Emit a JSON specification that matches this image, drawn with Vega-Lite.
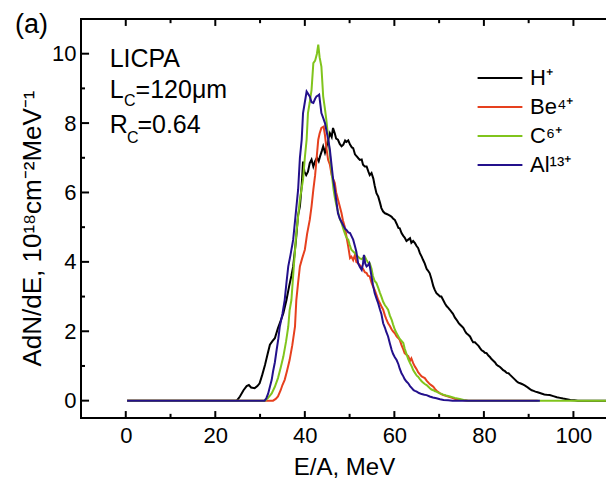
{
  "$schema": "https://vega.github.io/schema/vega-lite/v6.json",
  "width": 526,
  "height": 399,
  "autosize": "none",
  "padding": {"left": 81, "top": 19, "right": 0, "bottom": 62},
  "config": {
    "font": "Liberation Sans",
    "view": {"stroke": "black", "strokeWidth": 2},
    "axis": {"grid": false, "domain": false, "ticks": false, "labelColor": "black", "titleColor": "black", "labelFontSize": 22, "titleFontSize": 24, "titleFontWeight": "normal"}
  },
  "title": {"text": "(a)", "anchor": "start", "frame": "group", "fontSize": 27, "fontWeight": "normal", "color": "black", "dx": -66, "dy": 42, "offset": 0, "baseline": "alphabetic"},
  "datasets": {
    "xmajor": [{"t":0},{"t":20},{"t":40},{"t":60},{"t":80},{"t":100}],
    "xminor": [{"t":10},{"t":30},{"t":50},{"t":70},{"t":90}],
    "ymajor": [{"t":0},{"t":2},{"t":4},{"t":6},{"t":8},{"t":10}],
    "yminor": [{"t":1},{"t":3},{"t":5},{"t":7},{"t":9}],
    "H": [{"E":0.3,"V":0},{"E":24.8,"V":0},{"E":25.5,"V":0.12},{"E":26.3,"V":0.3},{"E":27.0,"V":0.42},{"E":27.5,"V":0.45},{"E":28.0,"V":0.38},{"E":28.8,"V":0.36},{"E":29.4,"V":0.42},{"E":29.9,"V":0.5},{"E":30.5,"V":0.75},{"E":31.1,"V":1.03},{"E":31.7,"V":1.35},{"E":32.2,"V":1.61},{"E":32.8,"V":1.72},{"E":33.3,"V":1.8},{"E":34.0,"V":2.09},{"E":34.6,"V":2.3},{"E":35.2,"V":2.52},{"E":35.9,"V":2.9},{"E":36.5,"V":3.3},{"E":37.0,"V":3.6},{"E":37.4,"V":3.87},{"E":38.0,"V":4.6},{"E":38.5,"V":5.35},{"E":38.9,"V":5.6},{"E":39.3,"V":6.2},{"E":39.6,"V":6.89},{"E":39.9,"V":6.6},{"E":40.3,"V":6.5},{"E":40.7,"V":6.6},{"E":41.1,"V":6.85},{"E":41.5,"V":6.95},{"E":41.9,"V":6.75},{"E":42.3,"V":6.9},{"E":42.7,"V":7.0},{"E":43.1,"V":6.9},{"E":43.4,"V":7.04},{"E":43.8,"V":7.2},{"E":44.1,"V":7.33},{"E":44.5,"V":7.15},{"E":44.8,"V":7.3},{"E":45.2,"V":7.5},{"E":45.6,"V":7.71},{"E":46.0,"V":7.6},{"E":46.3,"V":7.86},{"E":46.7,"V":7.7},{"E":47.0,"V":7.55},{"E":47.4,"V":7.52},{"E":47.8,"V":7.4},{"E":48.2,"V":7.33},{"E":48.6,"V":7.38},{"E":49.0,"V":7.5},{"E":49.3,"V":7.46},{"E":49.7,"V":7.5},{"E":50.1,"V":7.38},{"E":50.5,"V":7.3},{"E":50.8,"V":7.28},{"E":51.2,"V":7.1},{"E":51.6,"V":7.04},{"E":52.0,"V":6.98},{"E":52.3,"V":6.94},{"E":52.7,"V":6.95},{"E":53.0,"V":6.8},{"E":53.4,"V":6.75},{"E":53.8,"V":6.75},{"E":54.2,"V":6.6},{"E":54.5,"V":6.5},{"E":54.9,"V":6.56},{"E":55.3,"V":6.4},{"E":55.6,"V":6.2},{"E":56.0,"V":5.98},{"E":56.4,"V":5.88},{"E":56.8,"V":5.7},{"E":57.1,"V":5.55},{"E":57.5,"V":5.45},{"E":57.9,"V":5.4},{"E":58.3,"V":5.38},{"E":58.6,"V":5.36},{"E":59.0,"V":5.33},{"E":59.4,"V":5.3},{"E":59.7,"V":5.25},{"E":60.1,"V":5.21},{"E":60.5,"V":5.1},{"E":60.9,"V":4.98},{"E":61.2,"V":4.97},{"E":61.6,"V":4.83},{"E":62.0,"V":4.75},{"E":62.3,"V":4.7},{"E":62.7,"V":4.6},{"E":63.1,"V":4.64},{"E":63.5,"V":4.68},{"E":63.8,"V":4.55},{"E":64.2,"V":4.6},{"E":64.6,"V":4.54},{"E":65.0,"V":4.45},{"E":65.3,"V":4.4},{"E":65.7,"V":4.25},{"E":66.1,"V":4.15},{"E":66.4,"V":4.06},{"E":66.8,"V":3.95},{"E":67.2,"V":3.8},{"E":67.5,"V":3.75},{"E":67.9,"V":3.67},{"E":68.3,"V":3.5},{"E":68.7,"V":3.3},{"E":69.0,"V":3.2},{"E":69.4,"V":3.1},{"E":69.8,"V":3.05},{"E":70.2,"V":3.0},{"E":70.5,"V":3.0},{"E":70.9,"V":2.9},{"E":71.3,"V":2.8},{"E":71.7,"V":2.72},{"E":72.0,"V":2.68},{"E":72.4,"V":2.62},{"E":72.8,"V":2.55},{"E":73.1,"V":2.5},{"E":73.5,"V":2.4},{"E":73.9,"V":2.33},{"E":74.3,"V":2.25},{"E":74.6,"V":2.2},{"E":75.0,"V":2.15},{"E":75.4,"V":2.1},{"E":75.8,"V":2.0},{"E":76.1,"V":1.94},{"E":76.5,"V":1.9},{"E":76.9,"V":1.85},{"E":77.3,"V":1.75},{"E":77.6,"V":1.68},{"E":78.0,"V":1.68},{"E":78.4,"V":1.63},{"E":78.8,"V":1.58},{"E":79.1,"V":1.52},{"E":79.5,"V":1.45},{"E":79.9,"V":1.42},{"E":80.2,"V":1.38},{"E":80.6,"V":1.37},{"E":81.0,"V":1.3},{"E":81.4,"V":1.25},{"E":81.7,"V":1.2},{"E":82.1,"V":1.15},{"E":82.5,"V":1.1},{"E":82.8,"V":1.04},{"E":83.2,"V":1.0},{"E":83.6,"V":0.97},{"E":84.0,"V":0.92},{"E":84.3,"V":0.88},{"E":84.7,"V":0.85},{"E":85.1,"V":0.8},{"E":85.5,"V":0.79},{"E":85.8,"V":0.75},{"E":86.2,"V":0.7},{"E":86.6,"V":0.65},{"E":87.0,"V":0.6},{"E":87.3,"V":0.56},{"E":87.7,"V":0.52},{"E":88.1,"V":0.5},{"E":88.5,"V":0.48},{"E":88.8,"V":0.46},{"E":89.2,"V":0.43},{"E":89.6,"V":0.4},{"E":90.0,"V":0.36},{"E":90.3,"V":0.33},{"E":90.7,"V":0.3},{"E":91.1,"V":0.28},{"E":91.5,"V":0.26},{"E":92.0,"V":0.24},{"E":92.5,"V":0.22},{"E":93.0,"V":0.2},{"E":93.5,"V":0.18},{"E":94.0,"V":0.17},{"E":94.7,"V":0.16},{"E":95.5,"V":0.13},{"E":96.3,"V":0.1},{"E":97.0,"V":0.08},{"E":97.7,"V":0.06},{"E":98.5,"V":0.04},{"E":99.3,"V":0.02},{"E":100.2,"V":0.01},{"E":101.0,"V":0},{"E":107.5,"V":0}],
    "Be": [{"E":0.3,"V":0},{"E":32.9,"V":0},{"E":33.5,"V":0.05},{"E":34.0,"V":0.12},{"E":34.6,"V":0.3},{"E":35.0,"V":0.45},{"E":35.5,"V":0.6},{"E":36.0,"V":0.85},{"E":36.6,"V":1.17},{"E":37.2,"V":1.6},{"E":37.8,"V":2.13},{"E":38.1,"V":2.9},{"E":38.5,"V":3.4},{"E":38.9,"V":3.87},{"E":39.4,"V":4.1},{"E":40.0,"V":4.35},{"E":40.5,"V":4.8},{"E":41.1,"V":5.21},{"E":41.5,"V":5.6},{"E":41.9,"V":6.08},{"E":42.3,"V":6.5},{"E":42.6,"V":6.94},{"E":43.0,"V":7.52},{"E":43.3,"V":7.7},{"E":43.7,"V":7.86},{"E":44.2,"V":7.9},{"E":44.5,"V":7.65},{"E":44.8,"V":7.3},{"E":45.2,"V":6.94},{"E":45.6,"V":6.8},{"E":46.0,"V":6.5},{"E":46.3,"V":6.4},{"E":46.7,"V":6.27},{"E":47.0,"V":6.0},{"E":47.4,"V":5.8},{"E":47.8,"V":5.6},{"E":48.2,"V":5.4},{"E":48.5,"V":5.2},{"E":48.9,"V":5.02},{"E":49.3,"V":4.73},{"E":49.7,"V":4.44},{"E":50.1,"V":4.11},{"E":50.4,"V":4.15},{"E":50.8,"V":4.05},{"E":51.2,"V":4.2},{"E":51.5,"V":4.0},{"E":51.9,"V":3.96},{"E":52.3,"V":3.9},{"E":52.7,"V":3.85},{"E":53.0,"V":3.8},{"E":53.4,"V":3.7},{"E":53.8,"V":3.68},{"E":54.1,"V":3.6},{"E":54.5,"V":3.58},{"E":54.9,"V":3.4},{"E":55.2,"V":3.3},{"E":55.6,"V":3.19},{"E":56.0,"V":3.05},{"E":56.4,"V":2.9},{"E":56.8,"V":2.8},{"E":57.1,"V":2.72},{"E":57.5,"V":2.62},{"E":57.9,"V":2.45},{"E":58.2,"V":2.35},{"E":58.6,"V":2.23},{"E":59.0,"V":2.15},{"E":59.4,"V":2.05},{"E":59.7,"V":2.0},{"E":60.1,"V":1.94},{"E":60.5,"V":1.85},{"E":60.9,"V":1.8},{"E":61.2,"V":1.75},{"E":61.6,"V":1.6},{"E":62.0,"V":1.48},{"E":62.3,"V":1.37},{"E":62.7,"V":1.32},{"E":63.1,"V":1.28},{"E":63.5,"V":1.15},{"E":63.8,"V":1.22},{"E":64.2,"V":1.08},{"E":64.6,"V":0.98},{"E":65.0,"V":0.9},{"E":65.3,"V":0.82},{"E":65.7,"V":0.76},{"E":66.1,"V":0.7},{"E":66.4,"V":0.68},{"E":66.8,"V":0.65},{"E":67.2,"V":0.58},{"E":67.6,"V":0.52},{"E":67.9,"V":0.48},{"E":68.3,"V":0.44},{"E":68.7,"V":0.4},{"E":69.1,"V":0.33},{"E":69.5,"V":0.28},{"E":69.8,"V":0.25},{"E":70.2,"V":0.21},{"E":70.8,"V":0.17},{"E":71.5,"V":0.14},{"E":72.2,"V":0.11},{"E":72.9,"V":0.08},{"E":73.6,"V":0.05},{"E":74.5,"V":0.03},{"E":75.5,"V":0.01},{"E":76.5,"V":0},{"E":92.0,"V":0}],
    "C": [{"E":0.3,"V":0},{"E":31.1,"V":0},{"E":31.8,"V":0.08},{"E":32.6,"V":0.21},{"E":33.3,"V":0.4},{"E":34.0,"V":0.65},{"E":34.6,"V":0.95},{"E":35.2,"V":1.27},{"E":35.8,"V":1.7},{"E":36.3,"V":2.13},{"E":36.6,"V":2.6},{"E":37.0,"V":2.9},{"E":37.5,"V":3.8},{"E":38.1,"V":4.83},{"E":38.5,"V":5.3},{"E":38.9,"V":5.8},{"E":39.6,"V":6.37},{"E":40.0,"V":7.0},{"E":40.4,"V":7.52},{"E":40.7,"V":8.29},{"E":41.1,"V":8.6},{"E":41.5,"V":8.96},{"E":41.9,"V":9.73},{"E":42.3,"V":9.8},{"E":42.7,"V":10.0},{"E":43.0,"V":10.26},{"E":43.3,"V":9.9},{"E":43.7,"V":9.63},{"E":44.1,"V":8.77},{"E":44.5,"V":8.4},{"E":44.8,"V":8.1},{"E":45.2,"V":7.6},{"E":45.6,"V":7.1},{"E":46.0,"V":6.56},{"E":46.4,"V":6.1},{"E":46.7,"V":5.85},{"E":47.1,"V":5.6},{"E":47.5,"V":5.4},{"E":47.8,"V":5.25},{"E":48.2,"V":5.12},{"E":48.6,"V":4.95},{"E":49.0,"V":4.8},{"E":49.3,"V":4.7},{"E":49.7,"V":4.64},{"E":50.0,"V":4.5},{"E":50.4,"V":4.35},{"E":50.8,"V":4.3},{"E":51.2,"V":4.25},{"E":51.5,"V":4.2},{"E":51.9,"V":4.15},{"E":52.3,"V":4.1},{"E":52.7,"V":4.08},{"E":53.0,"V":4.12},{"E":53.4,"V":4.15},{"E":53.8,"V":4.05},{"E":54.1,"V":3.98},{"E":54.5,"V":3.96},{"E":54.9,"V":3.8},{"E":55.2,"V":3.6},{"E":55.6,"V":3.45},{"E":56.0,"V":3.39},{"E":56.4,"V":3.25},{"E":56.8,"V":3.1},{"E":57.1,"V":3.0},{"E":57.5,"V":2.85},{"E":57.9,"V":2.75},{"E":58.2,"V":2.7},{"E":58.6,"V":2.62},{"E":59.0,"V":2.45},{"E":59.4,"V":2.33},{"E":59.7,"V":2.2},{"E":60.1,"V":2.05},{"E":60.5,"V":1.94},{"E":60.9,"V":1.85},{"E":61.2,"V":1.78},{"E":61.6,"V":1.72},{"E":62.0,"V":1.66},{"E":62.3,"V":1.5},{"E":62.7,"V":1.35},{"E":63.1,"V":1.2},{"E":63.5,"V":1.08},{"E":63.9,"V":0.98},{"E":64.2,"V":0.88},{"E":64.6,"V":0.8},{"E":65.0,"V":0.72},{"E":65.3,"V":0.69},{"E":65.7,"V":0.62},{"E":66.1,"V":0.56},{"E":66.4,"V":0.52},{"E":66.8,"V":0.48},{"E":67.2,"V":0.45},{"E":67.6,"V":0.4},{"E":68.0,"V":0.35},{"E":68.3,"V":0.32},{"E":68.7,"V":0.3},{"E":69.1,"V":0.27},{"E":69.4,"V":0.26},{"E":69.8,"V":0.23},{"E":70.2,"V":0.21},{"E":70.8,"V":0.18},{"E":71.5,"V":0.15},{"E":72.4,"V":0.12},{"E":73.5,"V":0.08},{"E":74.6,"V":0.05},{"E":75.5,"V":0.02},{"E":76.5,"V":0},{"E":107.5,"V":0}],
    "Al": [{"E":0.3,"V":0},{"E":31.0,"V":0},{"E":31.4,"V":0.07},{"E":31.8,"V":0.2},{"E":32.2,"V":0.4},{"E":32.6,"V":0.6},{"E":32.9,"V":0.84},{"E":33.3,"V":1.1},{"E":33.7,"V":1.46},{"E":34.1,"V":1.8},{"E":34.4,"V":2.13},{"E":35.0,"V":2.5},{"E":35.5,"V":2.9},{"E":35.9,"V":3.4},{"E":36.3,"V":3.87},{"E":36.8,"V":4.2},{"E":37.4,"V":4.64},{"E":37.9,"V":5.3},{"E":38.5,"V":6.08},{"E":38.9,"V":7.0},{"E":39.3,"V":7.52},{"E":39.6,"V":8.29},{"E":40.0,"V":8.6},{"E":40.4,"V":8.91},{"E":40.7,"V":8.85},{"E":41.1,"V":8.77},{"E":41.5,"V":8.6},{"E":41.9,"V":8.58},{"E":42.3,"V":8.7},{"E":42.6,"V":8.77},{"E":43.0,"V":8.8},{"E":43.2,"V":8.82},{"E":43.5,"V":8.5},{"E":43.7,"V":8.29},{"E":44.1,"V":8.15},{"E":44.5,"V":8.0},{"E":44.8,"V":7.8},{"E":45.2,"V":7.55},{"E":45.6,"V":7.23},{"E":46.0,"V":6.75},{"E":46.3,"V":6.4},{"E":46.7,"V":6.08},{"E":47.1,"V":5.7},{"E":47.4,"V":5.4},{"E":47.8,"V":5.25},{"E":48.2,"V":5.15},{"E":48.6,"V":5.05},{"E":49.0,"V":4.95},{"E":49.3,"V":4.92},{"E":49.7,"V":4.85},{"E":50.1,"V":4.83},{"E":50.4,"V":4.75},{"E":50.8,"V":4.64},{"E":51.2,"V":4.45},{"E":51.5,"V":4.3},{"E":51.9,"V":3.96},{"E":52.3,"V":3.85},{"E":52.7,"V":3.77},{"E":53.0,"V":3.95},{"E":53.2,"V":4.2},{"E":53.5,"V":3.95},{"E":53.8,"V":3.87},{"E":54.1,"V":3.9},{"E":54.4,"V":3.96},{"E":54.9,"V":3.58},{"E":55.2,"V":3.35},{"E":55.6,"V":3.1},{"E":56.0,"V":2.95},{"E":56.4,"V":2.8},{"E":56.8,"V":2.62},{"E":57.1,"V":2.5},{"E":57.5,"V":2.23},{"E":57.9,"V":2.1},{"E":58.2,"V":1.98},{"E":58.6,"V":1.85},{"E":59.0,"V":1.65},{"E":59.4,"V":1.46},{"E":59.7,"V":1.35},{"E":60.1,"V":1.25},{"E":60.5,"V":1.17},{"E":60.9,"V":1.05},{"E":61.2,"V":0.92},{"E":61.6,"V":0.79},{"E":62.0,"V":0.7},{"E":62.3,"V":0.62},{"E":62.7,"V":0.55},{"E":63.1,"V":0.5},{"E":63.5,"V":0.42},{"E":63.9,"V":0.36},{"E":64.3,"V":0.3},{"E":64.6,"V":0.28},{"E":65.0,"V":0.26},{"E":65.5,"V":0.22},{"E":66.1,"V":0.19},{"E":66.7,"V":0.17},{"E":67.2,"V":0.16},{"E":67.9,"V":0.12},{"E":68.6,"V":0.09},{"E":69.4,"V":0.07},{"E":70.2,"V":0.04},{"E":71.0,"V":0.02},{"E":72.0,"V":0.01},{"E":73.0,"V":0},{"E":92.5,"V":0}],
    "notes": [{"E":-3.6,"V":9.63,"t":"LICPA"},{"E":-3.6,"V":8.72,"t":"L"},{"E":2.2,"V":8.72,"t":"=120μm"},{"E":-3.6,"V":7.71,"t":"R"},{"E":2.6,"V":7.71,"t":"=0.64"}],
    "subs": [{"E":-0.4,"V":8.48,"t":"C"},{"E":0.3,"V":7.42,"t":"C"}]
  },
  "layer": [
    {
      "data": {"name": "H"},
      "mark": {"type": "line", "strokeWidth": 2, "clip": true},
      "encoding": {
        "x": {"field": "E", "type": "quantitative", "scale": {"domain": [-10, 107.5], "nice": false, "zero": false},
          "axis": {"orient": "bottom", "values": [0,20,40,60,80,100], "labelPadding": 7, "title": "E/A, MeV", "titleY": 56, "titleBaseline": "alphabetic"}},
        "y": {"field": "V", "type": "quantitative", "scale": {"domain": [-0.5, 11], "nice": false, "zero": false},
          "axis": {"orient": "left", "values": [0,2,4,6,8,10], "labelPadding": 5, "title": "AdN/dE, 10¹⁸cm⁻²MeV⁻¹", "titleFontSize": 26, "titleX": -41, "titleY": 209, "titleAngle": -90, "titleAlign": "center", "titleBaseline": "alphabetic"}},
        "color": {"datum": "H⁺", "type": "nominal",
          "scale": {"domain": ["H⁺", "Be⁴⁺", "C⁶⁺", "Al¹³⁺"], "range": ["#000000", "#e6401e", "#80c41c", "#23108c"]},
          "legend": {"orient": "none", "legendX": 404, "legendY": 44, "title": null, "padding": 0, "symbolType": "M-1.6,0H1.6", "symbolSize": 784, "symbolStrokeWidth": 2, "labelFontSize": 22, "labelOffset": 15, "rowPadding": 3, "labelColor": "black"}}
      }
    },
    {
      "data": {"name": "Be"},
      "mark": {"type": "line", "strokeWidth": 2, "clip": true},
      "encoding": {"x": {"field": "E", "type": "quantitative"}, "y": {"field": "V", "type": "quantitative"}, "color": {"datum": "Be⁴⁺", "type": "nominal"}}
    },
    {
      "data": {"name": "C"},
      "mark": {"type": "line", "strokeWidth": 2, "clip": true},
      "encoding": {"x": {"field": "E", "type": "quantitative"}, "y": {"field": "V", "type": "quantitative"}, "color": {"datum": "C⁶⁺", "type": "nominal"}}
    },
    {
      "data": {"name": "Al"},
      "mark": {"type": "line", "strokeWidth": 2, "clip": true},
      "encoding": {"x": {"field": "E", "type": "quantitative"}, "y": {"field": "V", "type": "quantitative"}, "color": {"datum": "Al¹³⁺", "type": "nominal"}}
    },
    {
      "data": {"name": "xmajor"},
      "mark": {"type": "rule", "stroke": "black", "strokeWidth": 2},
      "encoding": {"x": {"field": "t", "type": "quantitative"}, "y": {"datum": -0.5}, "y2": {"datum": -0.3}}
    },
    {
      "data": {"name": "xminor"},
      "mark": {"type": "rule", "stroke": "black", "strokeWidth": 2},
      "encoding": {"x": {"field": "t", "type": "quantitative"}, "y": {"datum": -0.5}, "y2": {"datum": -0.38}}
    },
    {
      "data": {"name": "xmajor"},
      "mark": {"type": "rule", "stroke": "black", "strokeWidth": 2},
      "encoding": {"x": {"field": "t", "type": "quantitative"}, "y": {"datum": 11}, "y2": {"datum": 10.8}}
    },
    {
      "data": {"name": "xminor"},
      "mark": {"type": "rule", "stroke": "black", "strokeWidth": 2},
      "encoding": {"x": {"field": "t", "type": "quantitative"}, "y": {"datum": 11}, "y2": {"datum": 10.88}}
    },
    {
      "data": {"name": "ymajor"},
      "mark": {"type": "rule", "stroke": "black", "strokeWidth": 2},
      "encoding": {"y": {"field": "t", "type": "quantitative"}, "x": {"datum": -10}, "x2": {"datum": -8.2}}
    },
    {
      "data": {"name": "yminor"},
      "mark": {"type": "rule", "stroke": "black", "strokeWidth": 2},
      "encoding": {"y": {"field": "t", "type": "quantitative"}, "x": {"datum": -10}, "x2": {"datum": -9.1}}
    },
    {
      "data": {"name": "notes"},
      "mark": {"type": "text", "fontSize": 25, "align": "left", "baseline": "alphabetic", "color": "black"},
      "encoding": {"x": {"field": "E", "type": "quantitative"}, "y": {"field": "V", "type": "quantitative"}, "text": {"field": "t"}}
    },
    {
      "data": {"name": "subs"},
      "mark": {"type": "text", "fontSize": 16, "align": "left", "baseline": "alphabetic", "color": "black"},
      "encoding": {"x": {"field": "E", "type": "quantitative"}, "y": {"field": "V", "type": "quantitative"}, "text": {"field": "t"}}
    }
  ]
}
